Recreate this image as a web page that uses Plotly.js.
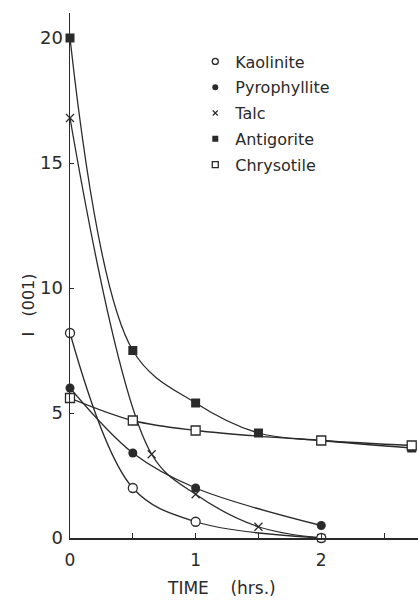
<!DOCTYPE html>
<html>
<head>
<meta charset="utf-8">
<script src="https://cdn.plot.ly/plotly-3.0.1.min.js"></script>
<style>html,body{margin:0;padding:0;background:#fff;}#chart{width:418px;height:600px;}</style>
</head>
<body>
<div id="chart"></div>
<script>
// Data
const kaoliniteX = [0, 0.5, 1, 2];
const kaoliniteY = [8.2, 2.0, 0.65, 0];
const pyrophylliteX = [0, 0.5, 1, 2];
const pyrophylliteY = [6.0, 3.4, 2.0, 0.5];
const talcX = [0, 0.65, 1, 1.5, 2];
const talcY = [16.8, 3.35, 1.75, 0.45, 0];
const antigoriteX = [0, 0.5, 1, 1.5, 2, 2.72];
const antigoriteY = [20, 7.5, 5.4, 4.2, 3.9, 3.6];
const chrysotileX = [0, 0.5, 1, 2, 2.72];
const chrysotileY = [5.6, 4.7, 4.3, 3.9, 3.7];
const seriesNames = ["Kaolinite", "Pyrophyllite", "Talc", "Antigorite", "Chrysotile"];
const xTickVals = [0, 0.5, 1, 1.5, 2, 2.5];
const xTickText = ["0", "", "1", "", "2", ""];
const yTickVals = [0, 5, 10, 15, 20];

const ink = "#2a2a2a";
const FONT = "'DejaVu Sans', sans-serif";
function mk(i, size) {
  const open = {color: "#fff", line: {width: 1.3, color: ink}};
  const defs = [
    Object.assign({symbol: "circle", size: size}, open),
    {symbol: "circle", size: size, color: ink, line: {width: 0}},
    {symbol: "x-thin-open", size: size - 1, color: ink, line: {width: 1.2, color: ink}},
    {symbol: "square", size: size, color: ink, line: {width: 0}},
    Object.assign({symbol: "square", size: size}, open)
  ];
  return defs[i];
}
const xs = [kaoliniteX, pyrophylliteX, talcX, antigoriteX, chrysotileX];
const ys = [kaoliniteY, pyrophylliteY, talcY, antigoriteY, chrysotileY];

const traces = [];
// draw order: talc first so open circle at (2,0) covers it
const order = [2, 1, 3, 4, 0];
order.forEach(i => {
  traces.push({
    x: xs[i], y: ys[i], mode: "lines+markers", type: "scatter",
    line: {shape: "spline", smoothing: 1, color: ink, width: 1.3},
    marker: mk(i, 9),
    showlegend: false, cliponaxis: false, hoverinfo: "skip"
  });
});
// legend-only marker traces
seriesNames.forEach((n, i) => {
  traces.push({
    x: [null], y: [null], mode: "markers", type: "scatter", name: n,
    marker: mk(i, 6), showlegend: true, legendgroup: "g" + i
  });
});

const layout = {
  width: 418, height: 600,
  margin: {l: 70, r: 0, t: 13, b: 62},
  paper_bgcolor: "#fff", plot_bgcolor: "#fff",
  font: {family: FONT, color: ink},
  showlegend: true,
  legend: {
    x: 0.36, y: 0.94, xanchor: "left", yanchor: "top",
    font: {size: 16, family: FONT, color: ink},
    bgcolor: "rgba(0,0,0,0)", tracegroupgap: 2, itemwidth: 30,
    traceorder: "grouped"
  },
  xaxis: {
    range: [0, 2.77], showgrid: false, zeroline: false,
    showline: true, linecolor: ink, linewidth: 1.5,
    tickmode: "array", tickvals: xTickVals, ticktext: xTickText,
    ticks: "inside", ticklen: 5, tickcolor: ink, tickwidth: 1,
    ticklabelstandoff: 6,
    tickfont: {size: 17, family: FONT, color: ink}
  },
  yaxis: {
    range: [0, 21], showgrid: false, zeroline: false,
    showline: true, linecolor: ink, linewidth: 1.5,
    tickmode: "array", tickvals: yTickVals,
    ticks: "inside", ticklen: 4, tickcolor: ink, tickwidth: 1,
    ticklabelstandoff: 2,
    tickfont: {size: 18, family: FONT, color: ink}
  },
  annotations: [{
    text: "I&nbsp;&nbsp;&nbsp;(001)", xref: "paper", yref: "paper",
    x: -0.152, y: 0.444, textangle: -90, showarrow: false,
    font: {size: 16, family: FONT, color: ink}
  }, {
    text: "TIME&nbsp;&nbsp;&nbsp;&nbsp;(hrs.)", xref: "paper", yref: "paper",
    x: 0.434, y: -0.095, yanchor: "middle", showarrow: false,
    font: {size: 17, family: FONT, color: ink}
  }]
};
Plotly.newPlot("chart", traces, layout, {displayModeBar: false, staticPlot: true});
</script>
</body>
</html>
